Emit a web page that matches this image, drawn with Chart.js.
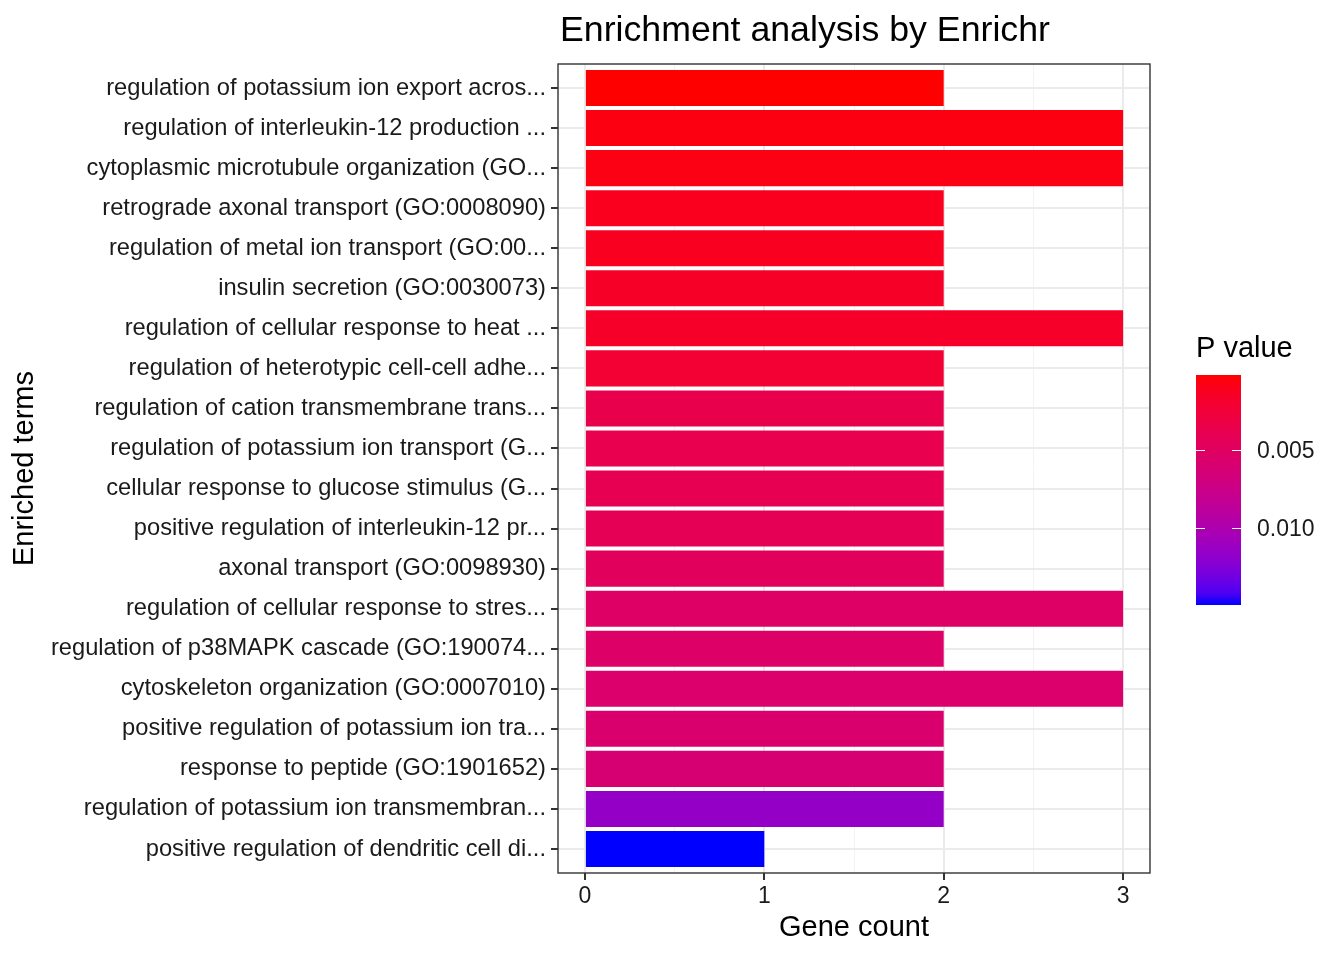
<!DOCTYPE html>
<html>
<head>
<meta charset="utf-8">
<script src="https://cdn.jsdelivr.net/npm/chart.js@4.4.1/dist/chart.umd.min.js"></script>
<style>
  html, body { margin: 0; padding: 0; background: #ffffff; }
</style>
</head>
<body>
<canvas id="myChart" width="1344" height="960"></canvas>
<script>
const terms = [
  "regulation of potassium ion export acros...",
  "regulation of interleukin-12 production ...",
  "cytoplasmic microtubule organization (GO...",
  "retrograde axonal transport (GO:0008090)",
  "regulation of metal ion transport (GO:00...",
  "insulin secretion (GO:0030073)",
  "regulation of cellular response to heat ...",
  "regulation of heterotypic cell-cell adhe...",
  "regulation of cation transmembrane trans...",
  "regulation of potassium ion transport (G...",
  "cellular response to glucose stimulus (G...",
  "positive regulation of interleukin-12 pr...",
  "axonal transport (GO:0098930)",
  "regulation of cellular response to stres...",
  "regulation of p38MAPK cascade (GO:190074...",
  "cytoskeleton organization (GO:0007010)",
  "positive regulation of potassium ion tra...",
  "response to peptide (GO:1901652)",
  "regulation of potassium ion transmembran...",
  "positive regulation of dendritic cell di..."
];
const geneCounts = [2, 3, 3, 2, 2, 2, 3, 2, 2, 2, 2, 2, 2, 3, 2, 3, 2, 2, 2, 1];
const pValues = [0.00019, 0.00063, 0.00071, 0.00108, 0.00122, 0.00152, 0.00167, 0.00226, 0.00373, 0.00380,
                 0.00403, 0.00432, 0.00476, 0.00521, 0.00535, 0.00565, 0.00580, 0.00609, 0.01155, 0.01494];
const legendTicks = [0.005, 0.010];

const FONT = "'Liberation Sans', Arial, Helvetica, sans-serif";
const lowColor = "#FF0000";
const highColor = "#0000FF";

// colour ramp in Lab space, like ggplot's scale_fill_gradient
function hexToRgb(h) {
  return [parseInt(h.slice(1, 3), 16), parseInt(h.slice(3, 5), 16), parseInt(h.slice(5, 7), 16)];
}
function toLinear(c) { c /= 255; return c <= 0.04045 ? c / 12.92 : Math.pow((c + 0.055) / 1.055, 2.4); }
function fromLinear(c) {
  c = c <= 0.0031308 ? 12.92 * c : 1.055 * Math.pow(c, 1 / 2.4) - 0.055;
  return Math.round(Math.max(0, Math.min(1, c)) * 255);
}
function rgbToLab(rgb) {
  const [r, g, b] = rgb.map(toLinear);
  const x = (0.4124 * r + 0.3576 * g + 0.1805 * b) / 0.95047;
  const y = 0.2126 * r + 0.7152 * g + 0.0722 * b;
  const z = (0.0193 * r + 0.1192 * g + 0.9505 * b) / 1.08883;
  const f = (t) => (t > 0.008856 ? Math.cbrt(t) : 7.787 * t + 16 / 116);
  return [116 * f(y) - 16, 500 * (f(x) - f(y)), 200 * (f(y) - f(z))];
}
function labToRgb(lab) {
  const fy = (lab[0] + 16) / 116, fx = fy + lab[1] / 500, fz = fy - lab[2] / 200;
  const inv = (t) => (t * t * t > 0.008856 ? t * t * t : (t - 16 / 116) / 7.787);
  const x = inv(fx) * 0.95047, y = inv(fy), z = inv(fz) * 1.08883;
  const r = 3.2406 * x - 1.5372 * y - 0.4986 * z;
  const g = -0.9689 * x + 1.8758 * y + 0.0415 * z;
  const b = 0.0557 * x - 0.2040 * y + 1.0570 * z;
  return "rgb(" + fromLinear(r) + "," + fromLinear(g) + "," + fromLinear(b) + ")";
}
const labLow = rgbToLab(hexToRgb(lowColor));
const labHigh = rgbToLab(hexToRgb(highColor));
const pMin = Math.min(...pValues);
const pMax = Math.max(...pValues);
function colorFor(p) {
  const t = (p - pMin) / (pMax - pMin);
  return labToRgb(labLow.map((v, i) => v + (labHigh[i] - v) * t));
}

const isWhole = (v) => Math.abs(v - Math.round(v)) < 1e-6;

const titlePlugin = {
  id: "plotTitle",
  afterDraw(chart) {
    const c = chart.ctx;
    c.save();
    c.fillStyle = "#000000";
    c.font = "35.7px " + FONT;
    c.textAlign = "left";
    c.textBaseline = "alphabetic";
    c.fillText("Enrichment analysis by Enrichr", chart.chartArea.left + 2, 41);
    c.restore();
  }
};

const panelBorder = {
  id: "panelBorder",
  afterDatasetsDraw(chart) {
    const a = chart.chartArea;
    const c = chart.ctx;
    c.save();
    c.strokeStyle = "#333333";
    c.lineWidth = 1.4;
    c.strokeRect(a.left, a.top, a.right - a.left, a.bottom - a.top);
    c.restore();
  }
};

const colorBar = {
  id: "colorBar",
  afterDraw(chart) {
    const c = chart.ctx;
    const x0 = 1196, w = 45, y0 = 375, h = 230;
    c.save();
    c.fillStyle = "#000000";
    c.font = "29px " + FONT;
    c.textAlign = "left";
    c.textBaseline = "alphabetic";
    c.fillText("P value", x0, 357);
    const grad = c.createLinearGradient(0, y0, 0, y0 + h);
    for (let i = 0; i <= 20; i++) {
      grad.addColorStop(i / 20, colorFor(pMin + (pMax - pMin) * i / 20));
    }
    c.fillStyle = grad;
    c.fillRect(x0, y0, w, h);
    c.font = "23px " + FONT;
    c.textBaseline = "middle";
    legendTicks.forEach((p) => {
      const y = Math.round(y0 + (p - pMin) / (pMax - pMin) * h) + 0.5;
      c.strokeStyle = "#ffffff";
      c.lineWidth = 1;
      c.beginPath();
      c.moveTo(x0, y); c.lineTo(x0 + 9, y);
      c.moveTo(x0 + w - 9, y); c.lineTo(x0 + w, y);
      c.stroke();
      c.fillStyle = "#1A1A1A";
      c.fillText(p.toFixed(3), 1257, y + 1);
    });
    c.restore();
  }
};

const ctx = document.getElementById("myChart");

new Chart(ctx, {
  type: "bar",
  data: {
    datasets: [
      {
        label: "Gene count",
        data: terms.map((t, i) => ({ x: geneCounts[i], y: i })),
        backgroundColor: pValues.map(colorFor),
        borderWidth: 0,
        categoryPercentage: 1,
        barPercentage: 0.9,
      },
    ],
  },
  options: {
    indexAxis: "y",
    responsive: false,
    maintainAspectRatio: false,
    animation: false,
    devicePixelRatio: 1,
    layout: { padding: { left: 8, top: 64, right: 194, bottom: 0 } },
    plugins: {
      legend: { display: false },
      tooltip: { enabled: false },
    },
    scales: {
      x: {
        type: "linear",
        position: "bottom",
        min: -0.15,
        max: 3.15,
        afterFit: (scale) => { scale.height = 87; },
        border: { display: false },
        grid: {
          color: (c) => (c.tick && isWhole(c.tick.value) ? "#EBEBEB" : "#F3F3F3"),
          lineWidth: (c) => (c.tick && isWhole(c.tick.value) ? 2 : 1),
          tickColor: (c) => (c.tick && isWhole(c.tick.value) ? "#333333" : "rgba(0,0,0,0)"),
          tickWidth: 2,
          tickLength: 7,
        },
        ticks: {
          stepSize: 0.5,
          maxTicksLimit: 100,
          includeBounds: false,
          autoSkip: false,
          maxRotation: 0,
          padding: 3,
          color: "#1A1A1A",
          font: { family: FONT, size: 23 },
          callback: (v) => (isWhole(v) ? String(Math.round(v)) : ""),
        },
        title: {
          display: true,
          text: "Gene count",
          color: "#000000",
          font: { family: FONT, size: 29 },
          padding: { top: 0, bottom: 15 },
        },
      },
      y: {
        type: "linear",
        reverse: true,
        offset: false,
        min: -0.6,
        max: 19.6,
        afterFit: (scale) => { scale.width = 550; },
        border: { display: false },
        grid: {
          offset: false,
          color: "#EBEBEB",
          lineWidth: 2,
          tickColor: "#333333",
          tickWidth: 2,
          tickLength: 7,
        },
        ticks: {
          stepSize: 1,
          maxTicksLimit: 100,
          includeBounds: false,
          autoSkip: false,
          padding: 5,
          color: "#1A1A1A",
          font: { family: FONT, size: 23.7 },
          callback: (v) => (isWhole(v) ? terms[Math.round(v)] : ""),
        },
        title: {
          display: true,
          text: "Enriched terms",
          color: "#000000",
          font: { family: FONT, size: 29 },
          padding: { top: 0, bottom: 0 },
        },
      },
    },
  },
  plugins: [titlePlugin, panelBorder, colorBar],
});
</script>
</body>
</html>
